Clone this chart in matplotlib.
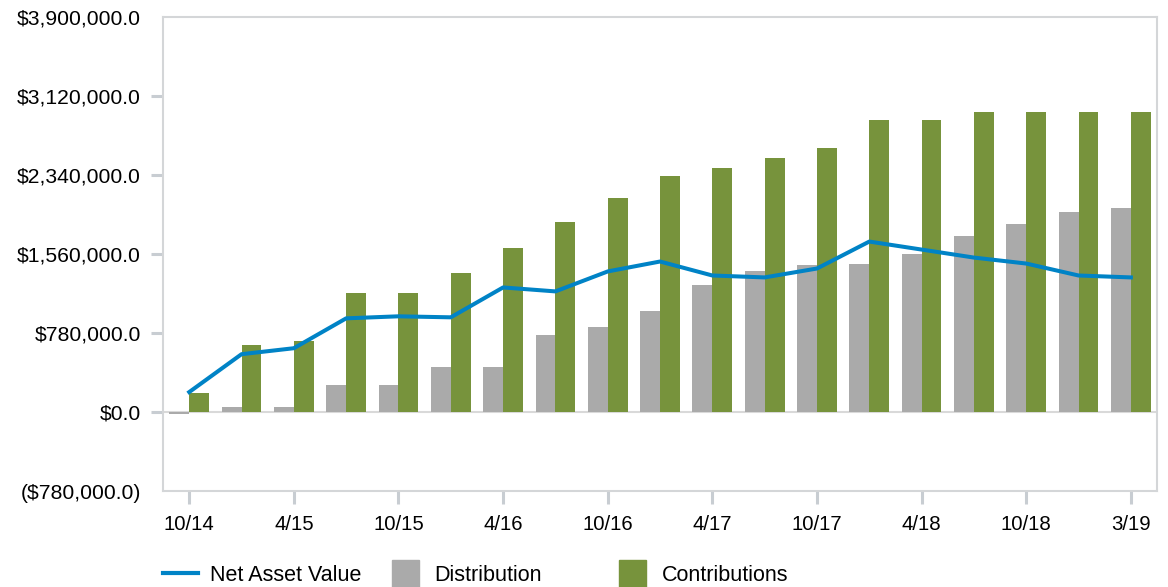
import matplotlib.pyplot as plt
import numpy as np
from matplotlib.lines import Line2D
from matplotlib.patches import Patch, Rectangle
from matplotlib.legend_handler import HandlerPatch

plt.rcParams["font.family"] = ["Liberation Sans", "DejaVu Sans"]

# quarterly periods, 10/14 .. 3/19
periods = ["10/14", "1/15", "4/15", "7/15", "10/15", "1/16", "4/16", "7/16",
           "10/16", "1/17", "4/17", "7/17", "10/17", "1/18", "4/18", "7/18",
           "10/18", "1/19", "3/19"]
tick_labels = ["10/14", "4/15", "10/15", "4/16", "10/16", "4/17", "10/17",
               "4/18", "10/18", "3/19"]

nav = [197000, 571000, 630000, 925000, 945000, 935000, 1230000, 1191000,
       1388000, 1486000, 1348000, 1329000, 1417000, 1683000, 1604000,
       1525000, 1466000, 1348000, 1329000]
distribution = [-20000, 50000, 50000, 266000, 266000, 443000, 443000, 758000,
                837000, 994000, 1250000, 1388000, 1447000, 1466000, 1565000,
                1742000, 1860000, 1978000, 2018000]
contributions = [190000, 659000, 699000, 1171000, 1171000, 1368000, 1624000,
                 1880000, 2116000, 2333000, 2411000, 2510000, 2608000,
                 2884000, 2884000, 2962000, 2962000, 2962000, 2962000]

blue = "#0083C6"
grey = "#AAAAAA"
green = "#77933C"
frame = "#D4D6D8"

x = np.arange(len(periods))
w = 0.38

fig = plt.figure(figsize=(11.68, 5.87), dpi=100)
ax = fig.add_axes([0.1396, 0.1635, 0.851, 0.8075])

ax.axhline(0, color="#D9D9D9", lw=1.5, zorder=1)
ax.bar(x - w / 2, distribution, width=w, color=grey, zorder=2)
ax.bar(x + w / 2, contributions, width=w, color=green, zorder=2)
ax.plot(x, nav, color=blue, lw=2.9, zorder=3)

ax.set_xlim(-0.5, len(periods) - 0.5)
ax.set_ylim(-780000, 3900000)
yticks = np.arange(-780000, 3900001, 780000)
ax.set_yticks(yticks)
ax.set_yticklabels(["${:,.1f}".format(v) if v >= 0 else "(${:,.1f})".format(-v)
                    for v in yticks])
ax.set_xticks([periods.index(t) for t in tick_labels])
ax.set_xticklabels(tick_labels)

for s in ax.spines.values():
    s.set_color(frame)
    s.set_linewidth(1.5)
ax.tick_params(axis="both", colors="#C8CDD2", labelcolor="black",
               length=9, width=2.2)
ax.tick_params(axis="x", pad=8, labelsize=14.7)
ax.tick_params(axis="y", pad=7, labelsize=15.2)
# no tick marks at the limits of the value axis
yt = ax.yaxis.get_major_ticks()
yt[0].tick1line.set_visible(False)
yt[-1].tick1line.set_visible(False)


def square(legend, orig_handle, xdescent, ydescent, width, height, fontsize):
    # square swatch centred in the handle box
    sw, sh = 19.5, 19
    return Rectangle((xdescent + (width - sw) / 2, ydescent + (height - sh) / 2),
                     sw, sh)


entries = [
    (Line2D([0], [0], color=blue, lw=3.0), "Net Asset Value", 163),
    (Patch(color=grey), "Distribution", 388),
    (Patch(color=green), "Contributions", 615),
]
for handle, label, xpos in entries:
    fig.legend([handle], [label], loc="center left",
               bbox_to_anchor=(xpos / 1168, 1 - 575.5 / 587),
               frameon=False, fontsize=15.5, borderpad=0, borderaxespad=0,
               handlelength=1.62, handletextpad=0.55,
               handler_map={Patch: HandlerPatch(patch_func=square)})

fig.savefig("out.png", dpi=100)
